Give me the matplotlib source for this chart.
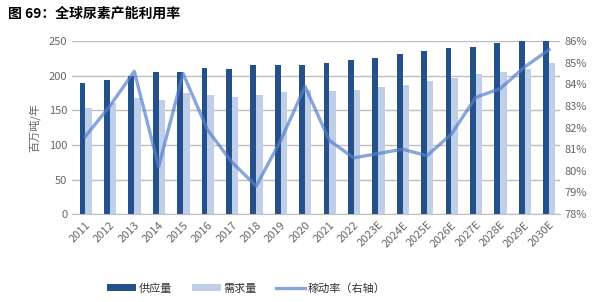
import matplotlib.pyplot as plt
import numpy as np
from matplotlib.ticker import FuncFormatter

plt.rcParams['font.family'] = ['Noto Sans CJK SC', 'DejaVu Sans']

years = ['2011', '2012', '2013', '2014', '2015', '2016', '2017', '2018', '2019', '2020',
         '2021', '2022', '2023E', '2024E', '2025E', '2026E', '2027E', '2028E', '2029E', '2030E']
supply = [189, 194, 199, 205, 205, 211, 210, 216, 216, 216,
          219, 222, 226, 231, 236, 240, 242, 247, 250, 250]
demand = [154, 160, 168, 165, 175, 172, 169, 172, 177, 180,
          178, 180, 184, 187, 192, 197, 202, 205, 210, 218]
util = [81.6, 83.0, 84.6, 80.2, 84.5, 81.9, 80.4, 79.3, 81.4, 83.9,
        81.4, 80.6, 80.8, 81.0, 80.7, 81.7, 83.4, 83.8, 84.8, 85.6]

dark = '#245189'
light = '#BFCFEA'
linec = '#5580CC'
gray = '#666666'

fig = plt.figure(figsize=(6.16, 3.02), dpi=100)
ax = fig.add_axes([0.117, 0.291, 0.792, 0.573])
x = np.arange(len(years))

b1 = ax.bar(x - 0.12, supply, width=0.24, color=dark, zorder=3)
b2 = ax.bar(x + 0.13, demand, width=0.27, color=light, zorder=2)
ax.set_ylim(0, 250)
ax.set_yticks(range(0, 251, 50))
ax.set_xlim(-0.55, 19.45)
ax.grid(axis='y', color='#BFBFBF', linewidth=1, zorder=0)
ax.set_xticks(x)
ax.set_xticklabels(years, rotation=45, ha='right', rotation_mode='anchor', fontsize=7, color=gray)
ax.tick_params(axis='both', length=0, labelsize=8, colors=gray)
ax.tick_params(axis='x', pad=4)
for s in ax.spines.values():
    s.set_visible(False)
ax.spines['bottom'].set_visible(True)
ax.spines['bottom'].set_color('#BFBFBF')
ax.set_ylabel('百万吨/年', fontsize=8, color=gray, labelpad=6)

ax2 = ax.twinx()
l1, = ax2.plot(x, util, color=linec, linewidth=2.4, alpha=0.7, zorder=5)
ax2.set_ylim(78, 86)
ax2.set_yticks(range(78, 87))
ax2.yaxis.set_major_formatter(FuncFormatter(lambda v, p: f'{v:.0f}%'))
ax2.tick_params(axis='y', length=0, labelsize=8, colors=gray)
for s in ax2.spines.values():
    s.set_visible(False)

fig.text(0.013, 0.955, '图 69：全球尿素产能利用率', fontsize=10, fontweight='bold', va='center')

fig.legend([b1, b2, l1], ['供应量', '需求量', '稼动率（右轴）'], loc='center',
           bbox_to_anchor=(0.4, 0.045), ncol=3, frameon=False, fontsize=8,
           handlelength=2.6, handleheight=0.6, handletextpad=0.2, columnspacing=1.8,
           labelcolor='#333333')

fig.savefig('out.png', dpi=100)
